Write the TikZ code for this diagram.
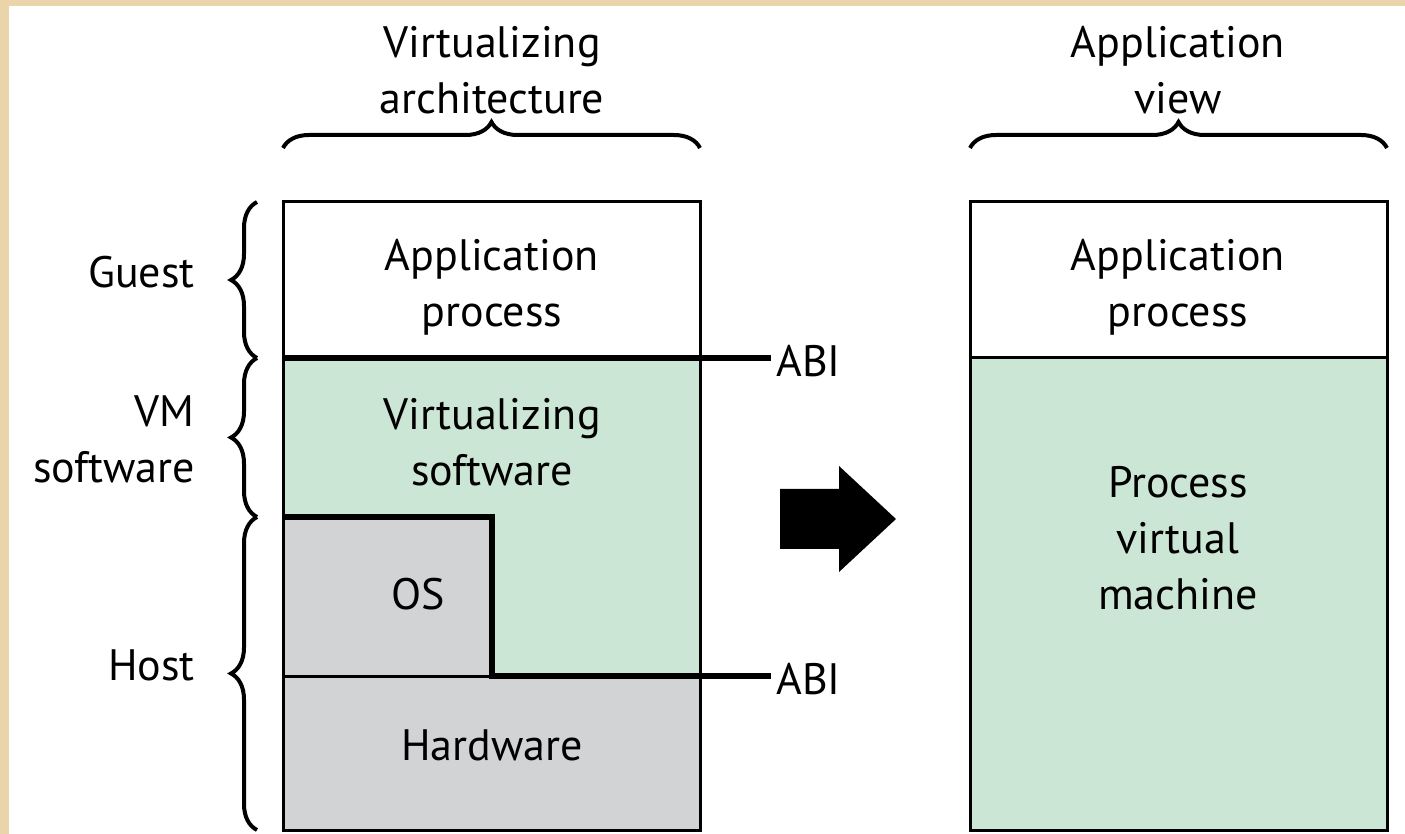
\documentclass[tikz,border=0pt]{standalone}
\usepackage{fontspec}
\setmainfont{PT Sans}
\usetikzlibrary{decorations.pathreplacing}

\definecolor{parchment}{HTML}{EAD4AA}
\definecolor{vmgreen}{HTML}{CCE6D5}
\definecolor{hwgrey}{HTML}{D1D3D4}

\tikzstyle{frame} = [draw,line width=1.5pt]
\tikzstyle{abiline} = [draw,line width=2.8pt,shorten >=2.5pt]
\tikzstyle{boxtext} = [font=\fontsize{22}{28}\selectfont,align=center,inner sep=0pt]
\tikzstyle{sidetext} = [boxtext,align=right,anchor=east]
\tikzstyle{bracedecorate} = [draw,decorate,decoration={brace,amplitude=13pt},line width=2pt]

\begin{document}
\begin{tikzpicture}[x=0.5pt,y=-0.5pt]
  %background
  \fill[parchment] (0,0) rectangle (1405,834);
  \fill[white] (9,6) rectangle (1405,834);
  %layers
  \foreach \xa/\ya/\xb/\yb/\fillcol in {
    283/202/700/358/white, 283/358/700/676/vmgreen, 283/517/492/676/hwgrey,
    283/676/700/830/hwgrey, 970/202/1387/358/white, 970/358/1387/830/vmgreen}
  {
    \fill[\fillcol] (\xa,\ya) rectangle (\xb,\yb);
  };
  \draw[frame] (283,202) rectangle (700,830);
  \draw[frame] (283,676) -- (492,676);
  \draw[frame] (970,202) rectangle (1387,830);
  \draw[frame] (970,358) -- (1387,358);
  %nodes
  \foreach \nodename/\x/\y/\text in {
    app/492/287/Application\\process, vmsw/492/442/Virtualizing\\software,
    os/418/594/OS, hw/492/745/Hardware,
    rapp/1178/287/Application\\process, pvm/1178/538/Process\\virtual\\machine,
    arch/492/70/Virtualizing\\architecture, view/1178/70/Application\\view}
  {
    \node[boxtext] (\nodename) at (\x,\y) {\text};
  };
  \foreach \nodename/\y/\text in {
    guest/272/Guest, vm/439/VM\\software, host/665/Host}
  {
    \node[sidetext] (\nodename) at (195,\y) {\text};
  };
  \node[boxtext,anchor=west] (abitop) at (776,361) {ABI};
  \node[boxtext,anchor=west] (abibottom) at (776,679) {ABI};
  %edges
  \coordinate (vmtop) at (283,358);
  \coordinate (ostop) at (283,517);
  \coordinate (oscorner) at (492,517);
  \coordinate (osfoot) at (492,676);
  \path[abiline] (vmtop) -- (vmtop -| abitop.west);
  \path[abiline] (ostop) -- (oscorner) -- (osfoot) -- (osfoot -| abibottom.west);
  %arrow
  \fill (780,489) -- (839,489) -- (839,466) -- (896,519) -- (839,572)
    -- (839,549) -- (780,549) -- cycle;
  %braces
  \foreach \xa/\ya/\xb/\yb in {
    283/148/700/148, 970/148/1387/148,
    257/358/257/202, 257/517/257/358, 257/830/257/517}
  {
    \path[bracedecorate] (\xa,\ya) -- (\xb,\yb);
  };
\end{tikzpicture}
\end{document}
